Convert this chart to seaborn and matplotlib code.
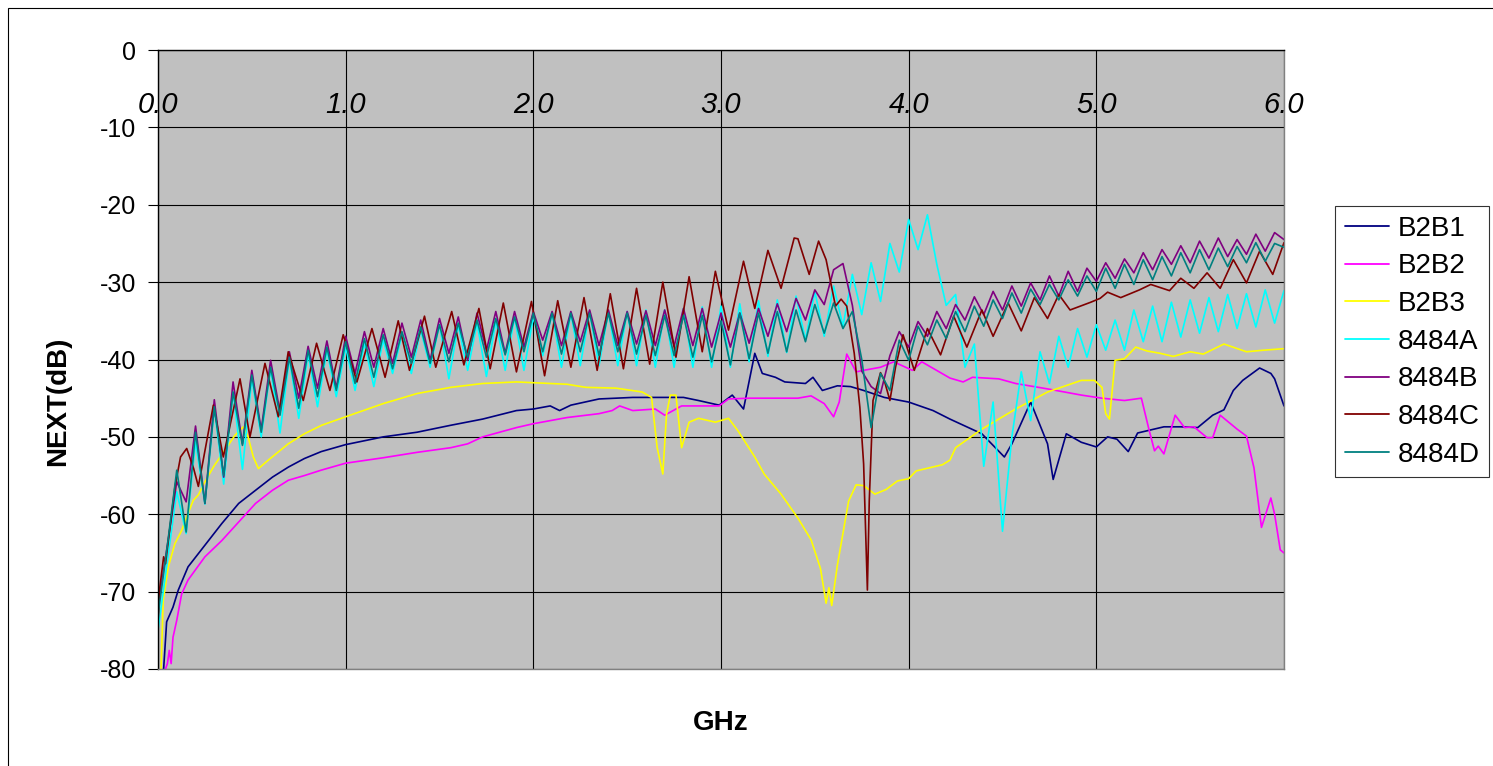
import numpy as np
import pandas as pd
import seaborn as sns
import matplotlib.pyplot as plt
from matplotlib.lines import Line2D

sns.set_style("white")
plt.rcParams['font.family'] = ['Liberation Sans', 'DejaVu Sans']
plt.rcParams['axes.unicode_minus'] = False
plt.rcParams['text.color'] = 'black'
plt.rcParams['axes.labelcolor'] = 'black'
plt.rcParams['xtick.color'] = 'black'
plt.rcParams['ytick.color'] = 'black'

series_names = ['B2B1', 'B2B2', 'B2B3', '8484A', '8484B', '8484C', '8484D']
series_colors = ['#000080', '#FF00FF', '#FFFF00', '#00FFFF', '#800080', '#800000', '#008080']

x_ticks = [0, 1, 2, 3, 4, 5, 6]
x_tick_labels = ['0.0', '1.0', '2.0', '3.0', '4.0', '5.0', '6.0']
y_ticks = [0, -10, -20, -30, -40, -50, -60, -70, -80]

# B2B traces
b2b1_ghz = [0.03, 0.046, 0.08, 0.108, 0.16, 0.25, 0.34, 0.43, 0.52, 0.61, 0.695, 0.78, 0.87, 1.0, 1.2,
            1.38, 1.56, 1.73, 1.91, 2.0, 2.09, 2.14, 2.2, 2.35, 2.53, 2.7, 2.8, 2.88, 2.99, 3.06,
            3.12, 3.18, 3.22, 3.29, 3.34, 3.45, 3.49, 3.54, 3.62, 3.69, 3.76, 3.87, 4.0, 4.13, 4.22,
            4.39, 4.51, 4.55, 4.65, 4.74, 4.77, 4.84, 4.92, 5.0, 5.06, 5.11, 5.17, 5.22, 5.36, 5.45,
            5.54, 5.62, 5.68, 5.73, 5.78, 5.87, 5.93, 5.95, 6.0]
b2b1_db = [-80, -73.9, -72, -69.8, -66.8, -64, -61.2, -58.6, -56.9, -55.2, -53.9, -52.8, -51.9, -51.0, -50.0,
           -49.4, -48.5, -47.7, -46.6, -46.4, -46.0, -46.6, -45.9, -45.1, -44.9, -44.9, -44.9, -45.3, -45.9, -44.6,
           -46.4, -39.2, -41.8, -42.3, -42.9, -43.1, -42.3, -44.0, -43.4, -43.5, -44.0, -44.9, -45.5, -46.6, -47.7,
           -49.6, -52.6, -50.9, -45.5, -50.9, -55.5, -49.6, -50.7, -51.3, -50.0, -50.3, -51.9, -49.5, -48.7, -48.7,
           -48.8, -47.2, -46.5, -44.0, -42.7, -41.1, -41.8, -42.5, -46.0]

b2b2_ghz = [0.04, 0.05, 0.06, 0.07, 0.08, 0.1, 0.126, 0.16, 0.25, 0.34, 0.43, 0.52, 0.61, 0.695, 0.78,
            0.87, 1.0, 1.2, 1.38, 1.56, 1.65, 1.73, 1.91, 2.0, 2.18, 2.35, 2.42, 2.46, 2.53, 2.65,
            2.7, 2.79, 2.99, 3.04, 3.15, 3.41, 3.48, 3.55, 3.6, 3.63, 3.67, 3.72, 3.76, 3.85, 3.92,
            4.02, 4.07, 4.22, 4.29, 4.34, 4.48, 4.57, 4.74, 4.92, 5.03, 5.15, 5.24, 5.28, 5.31, 5.33,
            5.36, 5.42, 5.47, 5.52, 5.59, 5.62, 5.66, 5.75, 5.8, 5.84, 5.88, 5.93, 5.95, 5.98, 6.0]
b2b2_db = [-80, -79.3, -77.6, -79.3, -75.9, -73.7, -70.3, -68.5, -65.5, -63.4, -61.0, -58.6, -56.9, -55.6, -55.0,
           -54.3, -53.4, -52.7, -52.0, -51.4, -50.9, -50.0, -48.8, -48.3, -47.5, -47.0, -46.6, -46.0, -46.6, -46.4,
           -47.2, -46.0, -46.0, -45.1, -45.0, -45.0, -44.7, -45.7, -47.4, -45.5, -39.3, -41.6, -41.4, -41.0, -40.3,
           -41.4, -40.3, -42.4, -42.9, -42.3, -42.5, -43.1, -43.8, -44.6, -45.0, -45.3, -45.0, -49.0, -51.8, -51.2,
           -52.2, -47.2, -48.8, -48.7, -50.1, -50.1, -47.2, -49.0, -49.9, -54.0, -61.7, -57.9, -60.0, -64.6, -65.0]

b2b3_ghz = [0.016, 0.028, 0.055, 0.09, 0.126, 0.16, 0.188, 0.215, 0.25, 0.3, 0.357, 0.41, 0.455, 0.48, 0.508,
            0.535, 0.588, 0.694, 0.78, 0.872, 1.0, 1.2, 1.38, 1.56, 1.73, 1.91, 2.0, 2.18, 2.28, 2.44,
            2.58, 2.63, 2.66, 2.69, 2.71, 2.73, 2.76, 2.79, 2.83, 2.88, 2.97, 3.04, 3.09, 3.18, 3.23,
            3.32, 3.41, 3.48, 3.53, 3.56, 3.575, 3.59, 3.62, 3.68, 3.72, 3.76, 3.82, 3.88, 3.94, 4.0,
            4.04, 4.18, 4.22, 4.25, 4.39, 4.57, 4.74, 4.92, 4.99, 5.03, 5.05, 5.07, 5.1, 5.15, 5.21,
            5.27, 5.34, 5.41, 5.5, 5.57, 5.68, 5.8, 5.89, 6.0]
b2b3_db = [-80, -71.1, -66.8, -63.8, -62.1, -59.9, -58.2, -57.5, -55.8, -53.7, -51.7, -49.8, -48.7, -50.0, -52.6,
           -54.1, -53.0, -50.9, -49.6, -48.5, -47.4, -45.7, -44.4, -43.6, -43.1, -42.9, -43.0, -43.2, -43.6, -43.7,
           -44.2, -44.9, -51.4, -54.8, -47.0, -44.6, -44.6, -51.4, -48.1, -47.6, -48.1, -47.6, -49.2, -52.6, -54.8,
           -57.4, -60.5, -63.3, -67.0, -71.5, -69.5, -71.8, -66.6, -58.3, -56.2, -56.3, -57.4, -56.8, -55.7, -55.4,
           -54.4, -53.6, -53.0, -51.4, -49.0, -46.4, -44.2, -42.7, -42.7, -43.6, -47.0, -47.7, -40.1, -39.9, -38.4,
           -38.9, -39.2, -39.6, -39.0, -39.3, -38.0, -39.0, -38.8, -38.6]

# 8484A/B/D share the 50 MHz sweep points, peaks and dips
sweep_ghz = np.linspace(0, 6, 121)
a8484_db = [-75.0, -66.0, -57.1, -62.5, -50.6, -58.7, -46.3, -56.1, -44.2, -54.2,
            -42.5, -50.0, -41.2, -49.5, -39.9, -47.6, -39.3, -46.1, -38.8, -44.8,
            -38.4, -44.0, -37.9, -43.5, -37.5, -41.8, -36.8, -41.8, -36.2, -41.0,
            -35.5, -42.5, -35.5, -41.4, -35.3, -42.2, -35.0, -41.4, -34.5, -41.4,
            -34.5, -39.5, -34.0, -41.0, -34.0, -40.8, -33.8, -40.8, -33.8, -40.8,
            -33.8, -40.8, -33.6, -41.0, -33.6, -41.0, -33.4, -41.0, -33.2, -41.0,
            -33.1, -41.0, -32.8, -40.3, -32.4, -39.6, -32.3, -39.1, -31.8, -37.5,
            -31.2, -37.0, -30.5, -35.7, -29.0, -34.2, -27.5, -32.5, -25.0, -28.7,
            -21.9, -25.8, -21.3, -27.7, -33.0, -31.6, -41.0, -38.0, -53.8, -45.5,
            -62.2, -50.0, -41.6, -47.9, -39.0, -43.1, -37.0, -41.0, -36.0, -39.7,
            -35.5, -38.8, -34.9, -38.8, -33.6, -37.7, -33.1, -37.7, -32.6, -37.1,
            -32.3, -36.6, -32.0, -36.4, -31.6, -36.0, -31.5, -35.8, -31.0, -35.3,
            -31.1]
b8484_db = [-72.0, -64.0, -55.8, -58.4, -48.6, -58.6, -45.2, -55.2, -42.9, -50.9,
            -41.4, -49.1, -40.1, -46.8, -39.0, -45.0, -38.3, -43.7, -37.6, -43.7,
            -37.0, -41.8, -36.4, -41.0, -36.0, -40.5, -35.3, -39.7, -34.9, -40.1,
            -34.7, -39.2, -34.5, -40.1, -34.0, -38.8, -33.8, -39.2, -33.8, -38.4,
            -33.8, -37.5, -33.8, -38.2, -33.8, -37.7, -33.6, -38.2, -33.6, -38.2,
            -33.8, -38.0, -33.7, -38.2, -33.6, -38.3, -33.4, -38.2, -33.4, -38.4,
            -34.0, -38.4, -34.0, -37.9, -33.4, -37.0, -32.8, -36.4, -32.1, -34.9,
            -31.0, -32.9, -28.4, -27.6, -33.0, -41.5, -43.5, -44.4, -39.5, -36.4,
            -38.4, -35.1, -37.0, -33.8, -36.0, -32.9, -34.9, -31.9, -34.2, -31.2,
            -33.6, -30.5, -33.1, -30.1, -32.3, -29.2, -31.8, -28.6, -31.2, -28.2,
            -29.9, -27.5, -29.5, -27.0, -28.8, -26.2, -28.4, -25.8, -27.7, -25.3,
            -27.5, -24.7, -26.9, -24.3, -26.7, -24.5, -26.4, -23.8, -26.0, -23.6,
            -24.5]
d8484_db = [-73.0, -64.0, -54.3, -62.3, -49.4, -58.6, -46.1, -55.0, -44.2, -51.1,
            -42.0, -49.4, -41.0, -47.2, -39.7, -46.3, -38.8, -44.8, -38.4, -44.0,
            -37.7, -43.1, -37.3, -42.3, -36.8, -41.2, -36.4, -40.5, -35.8, -40.5,
            -35.5, -40.3, -35.3, -39.7, -34.9, -39.7, -34.7, -39.4, -34.5, -39.0,
            -34.0, -39.0, -34.0, -39.3, -34.0, -39.0, -34.0, -39.5, -34.0, -39.0,
            -34.0, -39.3, -34.3, -39.5, -34.3, -39.5, -34.3, -39.7, -34.3, -40.3,
            -35.0, -40.7, -34.0, -39.9, -34.0, -39.2, -33.8, -39.0, -33.6, -37.7,
            -32.9, -36.6, -32.7, -36.0, -33.8, -40.0, -48.8, -41.8, -44.0, -37.5,
            -40.1, -35.7, -38.1, -34.9, -37.3, -33.8, -36.4, -33.1, -35.7, -32.3,
            -34.7, -31.4, -34.0, -30.9, -32.9, -30.3, -32.3, -29.7, -31.8, -29.2,
            -31.2, -28.2, -30.8, -27.7, -30.3, -27.1, -29.7, -26.7, -29.2, -26.2,
            -28.8, -25.8, -28.4, -25.6, -28.0, -25.4, -27.5, -24.9, -27.3, -25.0,
            -25.5]

# 8484C ripples with a longer period, so it has its own points
c8484_ghz = [0.0, 0.01, 0.03, 0.04, 0.09, 0.12, 0.153, 0.19, 0.215, 0.295, 0.348, 0.437, 0.49, 0.57, 0.641,
             0.694, 0.774, 0.845, 0.916, 0.987, 1.06, 1.14, 1.21, 1.28, 1.34, 1.42, 1.48, 1.565, 1.63, 1.71,
             1.77, 1.84, 1.91, 1.99, 2.06, 2.13, 2.20, 2.27, 2.34, 2.41, 2.48, 2.55, 2.62, 2.69, 2.76,
             2.83, 2.90, 2.97, 3.04, 3.12, 3.18, 3.25, 3.32, 3.39, 3.41, 3.47, 3.52, 3.56, 3.61, 3.64,
             3.67, 3.71, 3.74, 3.76, 3.78, 3.79, 3.81, 3.85, 3.87, 3.90, 3.93, 3.97, 4.03, 4.10, 4.17,
             4.24, 4.31, 4.39, 4.45, 4.53, 4.60, 4.67, 4.74, 4.80, 4.86, 4.97, 5.02, 5.06, 5.13, 5.23,
             5.29, 5.39, 5.45, 5.52, 5.59, 5.66, 5.73, 5.80, 5.87, 5.94, 6.0]
c8484_db = [-74, -69.4, -65.5, -66.4, -56.5, -52.6, -51.5, -54.1, -56.4, -45.9, -52.6, -42.5, -50.0, -40.5, -47.4,
            -39.0, -45.3, -37.9, -44.0, -36.8, -42.9, -36.0, -42.3, -35.0, -41.4, -34.4, -41.0, -33.8, -40.7, -33.4,
            -41.2, -32.7, -41.6, -32.5, -42.1, -32.4, -41.0, -32.0, -41.4, -31.5, -41.2, -30.8, -40.6, -30.0, -39.7,
            -29.3, -39.0, -28.6, -36.2, -27.3, -33.4, -25.9, -30.8, -24.3, -24.4, -29.0, -24.7, -27.1, -33.1, -32.2,
            -33.1, -39.2, -46.2, -53.5, -69.8, -58.3, -45.3, -41.7, -42.7, -45.3, -41.0, -36.8, -41.4, -36.0, -39.4,
            -34.4, -38.4, -33.6, -37.0, -32.7, -36.3, -32.0, -34.7, -31.6, -33.6, -32.6, -32.1, -31.3, -32.0, -31.0,
            -30.3, -31.1, -29.5, -30.8, -28.8, -30.8, -27.1, -30.1, -26.0, -29.0, -24.9]

traces = {
    'B2B1': (b2b1_ghz, b2b1_db),
    'B2B2': (b2b2_ghz, b2b2_db),
    'B2B3': (b2b3_ghz, b2b3_db),
    '8484A': (sweep_ghz, a8484_db),
    '8484B': (sweep_ghz, b8484_db),
    '8484C': (c8484_ghz, c8484_db),
    '8484D': (sweep_ghz, d8484_db),
}
df = pd.concat([pd.DataFrame({'GHz': x, 'dB': y, 'series': name}) for name, (x, y) in traces.items()],
               ignore_index=True)
palette = dict(zip(series_names, series_colors))

fig = plt.figure(figsize=(14.93, 7.66), dpi=100)
ax = fig.add_axes([158 / 1493, 1 - 669 / 766, 1126 / 1493, 619 / 766])
ax.set_facecolor('#C0C0C0')

sns.lineplot(data=df, x='GHz', y='dB', hue='series', hue_order=series_names, palette=palette,
             estimator=None, sort=False, lw=1.2, legend=False, ax=ax)

ax.set_xlim(0, 6)
ax.set_ylim(-80, 0)
ax.set_xticks(x_ticks)
ax.set_xticklabels(x_tick_labels, fontstyle='italic', fontsize=21)
ax.tick_params(axis='x', length=0, labeltop=True, labelbottom=False, pad=-50)
ax.set_yticks(y_ticks)
ax.tick_params(axis='y', direction='out', length=7, width=0.8, labelsize=18, pad=9, left=True)
ax.grid(True, color='black', lw=0.8)
ax.set_axisbelow(True)

for side, col in [('left', 'black'), ('top', 'black'), ('right', '#808080'), ('bottom', '#808080')]:
    ax.spines[side].set_color(col)
    ax.spines[side].set_linewidth(1)

ax.set_xlabel('GHz', fontsize=20, fontweight='bold')
ax.xaxis.label.set_va('center')
ax.xaxis.set_label_coords(0.5, -(723 - 669) / 619)
ax.set_ylabel('NEXT(dB)', fontsize=20, fontweight='bold')
ax.yaxis.label.set_va('center')
ax.yaxis.set_label_coords(-(158 - 58) / 1126, (669 - 401) / 619)

handles = [Line2D([], [], color=c, lw=1.3) for c in series_colors]
leg = fig.legend(handles, series_names, loc='upper left', bbox_to_anchor=(1335 / 1493, 1 - 206 / 766),
                 frameon=True, fancybox=False, edgecolor='black', fontsize=20, handlelength=1.6,
                 handletextpad=0.3, labelspacing=0.42, borderpad=0.35, borderaxespad=0)
leg.get_frame().set_linewidth(0.8)

fig.add_artist(plt.Rectangle((8 / 1493, -0.05), 1.2, (766 - 8) / 766 + 0.05, transform=fig.transFigure,
                             fill=False, ec='black', lw=0.8))

fig.savefig('out.png', dpi=100)
